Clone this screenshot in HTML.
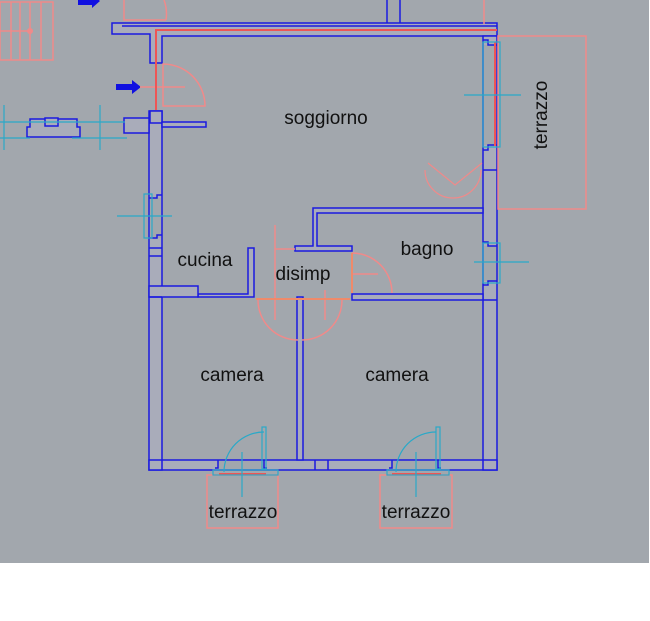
<!DOCTYPE html>
<html><head><meta charset="utf-8"><style>
html,body{margin:0;padding:0;background:#fff;}
svg{display:block}
text{font-family:"Liberation Sans",sans-serif;font-size:19px;fill:#111}
</style></head><body>
<svg width="650" height="621" viewBox="0 0 650 621" xmlns="http://www.w3.org/2000/svg">
<rect x="0" y="0" width="649" height="563" fill="#a2a7ad"/>
<!-- walls -->
<g stroke="#1a1ae0" stroke-width="1.5" fill="#a9acba">
<path d="M112,23 H497 V36 H162 V63 H150 V34 H112 Z"/>
<rect x="149" y="111" width="13" height="359"/>
<rect x="483" y="36" width="14" height="434"/>
<rect x="149" y="460" width="348" height="10"/>
<rect x="150" y="111" width="12" height="12"/>
<rect x="162" y="122" width="44" height="5"/>
<rect x="124" y="118" width="25" height="15"/>
<path d="M27,127 h3 v-8 h47 v8 h3 v10 h-53z"/>
<rect x="45" y="118" width="13" height="8"/>
<path d="M313,208 H483 V213 H317 V246 H352 V251 H295 V246 H313 Z"/>
<path d="M248,248 H254 V297 H198 V294 H248 Z"/>
<rect x="149" y="286" width="49" height="11"/>
<path d="M352,294 H483 V300 H352 Z"/>
<path d="M297,297 H303 V460 H297 Z"/>
</g>
<g stroke="#1a1ae0" stroke-width="1.5" fill="none">
<line x1="122" y1="26" x2="497" y2="26"/>
<line x1="149" y1="297" x2="162" y2="297"/>
<line x1="149" y1="248" x2="162" y2="248"/>
<line x1="149" y1="256" x2="162" y2="256"/>
<line x1="162" y1="460" x2="162" y2="470"/>
<line x1="483" y1="460" x2="483" y2="470"/>
<line x1="315" y1="460" x2="315" y2="470"/><line x1="328" y1="460" x2="328" y2="470"/>
<line x1="483" y1="170" x2="497" y2="170"/>
<line x1="483" y1="300" x2="497" y2="300"/>
<line x1="387" y1="0" x2="387" y2="23"/><line x1="400" y1="0" x2="400" y2="23"/>
</g>
<!-- openings -->
<g fill="#a2a7ad">
<rect x="218" y="461" width="46" height="8"/>
<rect x="392" y="461" width="46" height="8"/>
<rect x="150" y="198" width="11" height="40"/>
<rect x="150" y="64" width="12" height="46"/>
<rect x="484" y="45" width="12" height="100"/>
<rect x="484" y="246" width="12" height="35"/>
</g>
<g stroke="#1a1ae0" stroke-width="1.5" fill="none">
<path d="M149,198 h8 v-3 h5 M149,238 h8 v-3 h5"/>
<path d="M497,45 h-9 v-5 h-5 M497,145 h-9 v5 h-5"/>
<path d="M497,246 h-9 v-4 h-5 M497,281 h-9 v4 h-5"/>
<path d="M218,460 v8 h-3 M264,460 v8 h3 M392,460 v8 h-3 M438,460 v8 h3"/>
</g>
<!-- stair top-left -->
<g stroke="#f08a8a" stroke-width="1.5" fill="none">
<rect x="0" y="2" width="53" height="58"/>
<line x1="11" y1="2" x2="11" y2="60"/><line x1="20" y1="2" x2="20" y2="60"/><line x1="30" y1="2" x2="30" y2="60"/><line x1="41" y1="2" x2="41" y2="60"/>
<line x1="0" y1="31" x2="30" y2="31"/>
</g>
<circle cx="30" cy="31" r="3" fill="#f08a8a"/>
<!-- blue arrows -->
<path d="M78,-3 h14 v-3 l8,7 l-8,7 v-3 h-14z" fill="#1010e0"/>
<path d="M116,84 h16 v-4 l9,7 l-9,7 v-4 h-16z" fill="#1010e0"/>
<!-- red elements -->
<g stroke="#f08a8a" stroke-width="1.5" fill="none">
<path d="M124,0 v20 h42 M166,20 a40,40 0 0 0 -2,-20"/>
<path d="M484,0 v24"/>
<rect x="498" y="36" width="88" height="173"/>
<rect x="207" y="475" width="71" height="53"/>
<rect x="380" y="475" width="72" height="53"/>
<path d="M163,64 a42,42 0 0 1 42,42 h-42 z"/>
<line x1="140" y1="87" x2="185" y2="87"/>
<path d="M258,300 a40,40 0 0 0 40,40 M342,300 a40,40 0 0 1 -40,40"/>
<line x1="275" y1="225" x2="275" y2="320"/><line x1="325" y1="290" x2="325" y2="320"/>
<line x1="275" y1="249" x2="295" y2="249"/>
<path d="M352,253 a40,40 0 0 1 40,40"/>
<line x1="352" y1="274" x2="378" y2="274"/>
<path d="M425,170 a28,28 0 0 0 56,0 M428,163 l27,22 l27,-22" stroke-width="1.2"/>
</g>
<g stroke="#e55" stroke-width="2" fill="none">
<line x1="155" y1="30" x2="497" y2="30"/>
<line x1="156" y1="30" x2="156" y2="110"/>
<line x1="495" y1="42" x2="495" y2="146"/>
<line x1="219" y1="474" x2="266" y2="474"/>
<line x1="392" y1="474" x2="441" y2="474"/>
<line x1="256" y1="299" x2="350" y2="299" stroke="#f08a6a"/>
<line x1="352" y1="253" x2="352" y2="293" stroke="#f08a6a"/>
</g>
<!-- cyan -->
<g stroke="#2aa9c8" stroke-width="1.2" fill="none">
<line x1="0" y1="122" x2="125" y2="122"/><line x1="0" y1="138" x2="30" y2="138"/>
<line x1="72" y1="138" x2="127" y2="138"/>
<line x1="4" y1="105" x2="4" y2="150"/><line x1="100" y1="105" x2="100" y2="150"/>
<line x1="117" y1="216" x2="172" y2="216"/><rect x="144" y="194" width="8" height="44"/>
<line x1="464" y1="95" x2="521" y2="95"/><rect x="483" y="42" width="17" height="105"/>
<line x1="474" y1="262" x2="529" y2="262"/><rect x="483" y="243" width="17" height="40"/>
<path d="M224,472 a40,40 0 0 1 40,-40 M396,472 a40,40 0 0 1 40,-40"/>
<line x1="242" y1="452" x2="242" y2="497"/><line x1="416" y1="452" x2="416" y2="497"/>
<rect x="262" y="427" width="4" height="42"/><rect x="436" y="427" width="4" height="42"/>
<rect x="213" y="470" width="65" height="5"/><rect x="387" y="470" width="62" height="5"/>
</g>
<!-- labels -->
<text x="326" y="124" text-anchor="middle">soggiorno</text>
<text x="547" y="115" text-anchor="middle" transform="rotate(-90 547 115)">terrazzo</text>
<text x="205" y="266" text-anchor="middle">cucina</text>
<text x="303" y="280" text-anchor="middle">disimp</text>
<text x="427" y="255" text-anchor="middle">bagno</text>
<text x="232" y="381" text-anchor="middle">camera</text>
<text x="397" y="381" text-anchor="middle">camera</text>
<text x="243" y="518" text-anchor="middle">terrazzo</text>
<text x="416" y="518" text-anchor="middle">terrazzo</text>
</svg>
</body></html>
